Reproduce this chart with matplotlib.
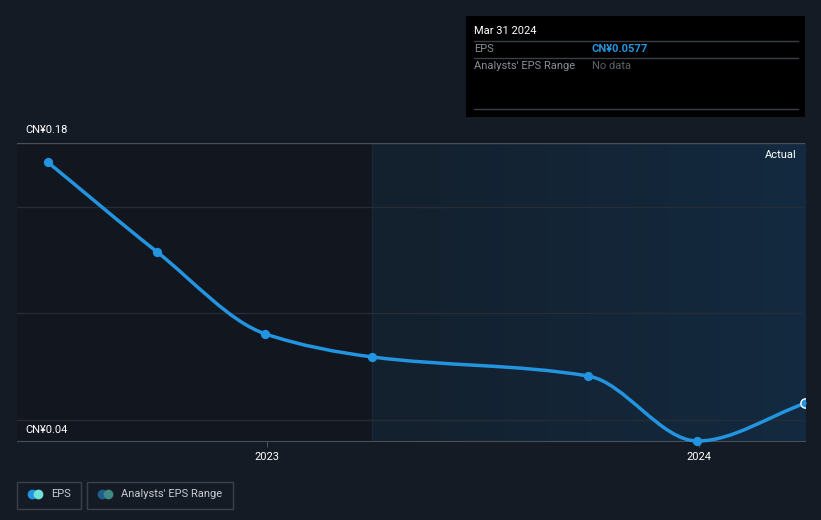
import numpy as np
import pandas as pd
import matplotlib
matplotlib.use("Agg")
import matplotlib.pyplot as plt
import matplotlib.dates as mdates
from matplotlib.path import Path
from matplotlib.patches import PathPatch, Rectangle
from matplotlib.colors import LinearSegmentedColormap

# data
dates = pd.to_datetime(["2022-06-30", "2022-09-30", "2022-12-31", "2023-03-31",
                        "2023-09-30", "2023-12-31", "2024-03-31"])
eps = [0.171, 0.129, 0.0903, 0.0795, 0.0705, 0.0400, 0.0577]
y_ticks = [0.04, 0.18]
grid_vals = [0.05, 0.10, 0.15]
actual_start = pd.Timestamp("2023-03-31")

BG = "#151b25"
LINE = "#2394df"

plt.rcParams['font.family'] = ['Roboto', 'DejaVu Sans']

fig = plt.figure(figsize=(8.21, 5.20), dpi=100, facecolor=BG)
ax = fig.add_axes([17 / 821, 1 - 441 / 520, (805 - 17) / 821, (441 - 143) / 520])
ax.set_facecolor(BG)

x = mdates.date2num(dates)
y = np.array(eps)
xmin = mdates.date2num(pd.Timestamp("2022-06-04"))
xmax = x[-1]
ax.set_xlim(xmin, xmax)
ax.set_ylim(0.04, 0.18)

# shaded regions
xa = mdates.date2num(actual_start)
ax.axvspan(xmin, xa, color="#12161e", zorder=0, lw=0)
grad = np.linspace(0, 1, 256).reshape(1, -1)
cmap = LinearSegmentedColormap.from_list("g", ["#13202d", "#142a40"])
ax.imshow(grad, cmap=cmap, aspect="auto", extent=[xa, xmax, 0.04, 0.18], zorder=0)
ax.axvline(xa, color="#17283a", lw=1, zorder=1)

for g in grid_vals:
    ax.axhline(g, color="#262d37", lw=1, zorder=1)
ax.axhline(0.18, color="#4a4f57", lw=1, zorder=2)

# smooth curve through points (monotone cubic as bezier)
h = np.diff(x)
d = np.diff(y) / h
m = np.zeros_like(y)
m[0], m[-1] = d[0], d[-1]
for i in range(1, len(y) - 1):
    if d[i - 1] * d[i] <= 0:
        m[i] = 0
    else:
        w1 = 2 * h[i] + h[i - 1]
        w2 = h[i] + 2 * h[i - 1]
        m[i] = (w1 + w2) / (w1 / d[i - 1] + w2 / d[i])
verts = [(x[0], y[0])]
codes = [Path.MOVETO]
for i in range(len(x) - 1):
    verts += [(x[i] + h[i] / 3, y[i] + m[i] * h[i] / 3),
              (x[i + 1] - h[i] / 3, y[i + 1] - m[i + 1] * h[i] / 3),
              (x[i + 1], y[i + 1])]
    codes += [Path.CURVE4] * 3
ax.add_patch(PathPatch(Path(verts, codes), fill=False, edgecolor=LINE, lw=2.5,
                       zorder=4, clip_on=False, capstyle="round"))
ax.scatter(x[:-1], y[:-1], s=32, color=LINE, zorder=5, clip_on=False)
ax.scatter(x[-1:], y[-1:], s=45, color=LINE, edgecolor="white", lw=1, zorder=6, clip_on=True)

# axes styling
for s in ["top", "right", "left"]:
    ax.spines[s].set_visible(False)
ax.spines["bottom"].set_color("#4a4f57")
ax.set_yticks([])
ax.xaxis.set_major_locator(mdates.YearLocator())
ax.xaxis.set_major_formatter(mdates.DateFormatter("%Y"))
ax.tick_params(axis="x", colors="#4a4f57", labelcolor="white", labelsize=8, length=4, pad=4)

fig.text(25 / 821, 1 - 130 / 520, "CN¥%.2f" % y_ticks[1], color="white", fontsize=8, va="center")
fig.text(25 / 821, 1 - 430 / 520, "CN¥%.2f" % y_ticks[0], color="white", fontsize=8, va="center")
ax.text(0.99, 0.96, "Actual", transform=ax.transAxes, color="white", fontsize=8, ha="right", va="center")

# tooltip box
fig.patches.append(Rectangle((466 / 821, 1 - 117 / 520), (805 - 466) / 821, 101 / 520,
                             transform=fig.transFigure, facecolor="black", edgecolor="none", zorder=10))
def hline(yy):
    fig.add_artist(plt.Line2D([474 / 821, 798 / 821], [1 - yy / 520] * 2, color="#3b3f45", lw=1, zorder=11))
for yy in [41, 58, 109]:
    hline(yy)
fig.text(474 / 821, 1 - 31 / 520, "Mar 31 2024", color="white", fontsize=8, va="center", zorder=12)
fig.text(474 / 821, 1 - 49 / 520, "EPS", color="#8a8e94", fontsize=8, va="center", zorder=12)
fig.text(592 / 821, 1 - 49 / 520, "CN¥%.4f" % 0.0577, color=LINE, fontsize=8, va="center",
         fontweight="bold", zorder=12)
fig.text(474 / 821, 1 - 66 / 520, "Analysts' EPS Range", color="#8a8e94", fontsize=8, va="center", zorder=12)
fig.text(592 / 821, 1 - 66 / 520, "No data", color="#5c6068", fontsize=8, va="center", zorder=12)

# legend boxes
def legend_box(x0, x1, label, c1, c2):
    fig.patches.append(Rectangle((x0 / 821, 1 - 509 / 520), (x1 - x0) / 821, 27 / 520,
                                 transform=fig.transFigure, facecolor="none", edgecolor="#3b414b", lw=1))
    fig.add_artist(plt.Line2D([(x0 + 15) / 821], [1 - 494 / 520], marker="o", ms=6, color=c1, lw=0))
    fig.add_artist(plt.Line2D([(x0 + 21) / 821], [1 - 494 / 520], marker="o", ms=6, color=c2, lw=0))
    fig.text((x0 + 34) / 821, 1 - 494 / 520, label, color="#c8cbd0", fontsize=8, va="center")
legend_box(17, 81, "EPS", "#2394df", "#6fe3d9")
legend_box(87, 233, "Analysts' EPS Range", "#215e8c", "#3f8a85")

fig.savefig("out.png", dpi=100, facecolor=BG)
